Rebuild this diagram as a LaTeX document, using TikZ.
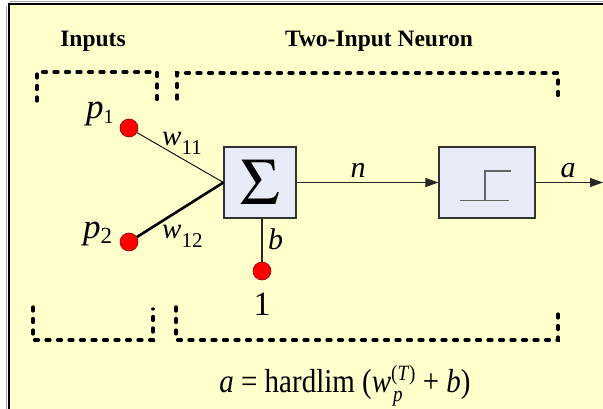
\documentclass[tikz,border=0pt]{standalone}
\usepackage{mathptmx}
\usepackage{fontspec}
\setmainfont{Liberation Serif}
\usetikzlibrary{arrows.meta}
\definecolor{bgyellow}{RGB}{255,255,204}
\definecolor{boxfill}{RGB}{230,235,247}
\definecolor{boxline}{RGB}{50,50,50}
\definecolor{stepc}{RGB}{100,100,100}
\definecolor{dotred}{RGB}{255,0,0}
\newcommand{\fs}[1]{\fontsize{#1}{#1}\selectfont}
\newcommand{\sublab}[5]{\fs{#3}\textit{#1}\raisebox{-#4pt}{\fs{#5}#2}}
\tikzset{
  brk/.style={line width=3.2pt, dash pattern=on 4pt off 7.5pt, line cap=round},
  blk/.style={draw=boxline, fill=boxfill, line width=1.2pt, inner sep=0pt, minimum height=71pt},
  dot/.style={circle, draw=red!55!black, fill=dotred, line width=0.6pt, minimum size=18pt, inner sep=0pt},
  lbl/.style={inner sep=0pt, anchor=base west},
  wire/.style={line width=1.1pt, draw=black!85},
  arr/.style={wire, -{Triangle[length=13pt,width=9pt]}},
  head/.style={font=\fs{23.5}\bfseries, inner sep=0pt}
}
\begin{document}
\begin{tikzpicture}[x=1pt,y=-1pt]
\useasboundingbox (0,0) rectangle (603,409);
\fill[bgyellow] (8,3) rectangle (603,409);
\draw[black!35, line width=1pt] (6.5,6) -- (6.5,409);
\draw[black!35, line width=1pt] (10,1.5) -- (603,1.5);
\draw[line width=1.6pt] (8.8,409) -- (8.8,3.8) -- (603,3.8);

\node[head] (hin) at (93,41) {Inputs};
\node[head] (hneu) at (379,41) {Two-Input Neuron};

\draw[brk] (37,101) -- (37,72) -- (157,72) -- (157,101);
\draw[brk] (177,99) -- (177,73) -- (558,73) -- (558,99);
\draw[brk] (33,307) -- (33,340) -- (153,340) -- (153,309);
\draw[brk] (176,307) -- (176,340) -- (558,340) -- (558,307);

\node[blk, minimum width=72pt] (sum) at (260,182.5) {\fs{66}$\Sigma$};
\node[blk, minimum width=96pt] (lim) at (487,182.5) {};
\draw[stepc, line width=1.6pt] (460,200.5) -- (509,200.5);
\draw[stepc, line width=1.6pt] (485,200.5) -- (485,171) -- (511,171);

\node[dot] (p1) at (129,128) {};
\node[dot] (p2) at (129,242) {};
\node[dot] (bias) at (262,271) {};
\coordinate (out) at (603,182.5);

\draw[line width=0.9pt] (p1) -- (sum.west);
\draw[line width=2.6pt] (p2) -- (sum.west);
\draw[wire] (sum.south -| bias) -- (bias);
\draw[arr] (sum.east) -- (lim.west);
\draw[arr] (lim.east) -- (out);

\node[lbl] (lp1) at (86,119) {\sublab{p}{1}{35}{5}{20}};
\node[lbl] (lp2) at (83,239) {\sublab{p}{2}{35}{5}{23}};
\node[lbl] (lw11) at (162,146) {\sublab{w}{11}{29}{9}{21}};
\node[lbl] (lw12) at (162,239) {\sublab{w}{12}{29}{9}{21}};
\node[lbl] (lb) at (268,249) {\fs{30}\textit{b}};
\node[lbl, anchor=base] (ln) at (358,178) {\fs{30}\textit{n}};
\node[lbl, anchor=base] (la) at (568,178) {\fs{30}\textit{a}};
\node[lbl, anchor=base] (lone) at (262,315) {\fs{34}1};
\node[lbl, anchor=base] (eq) at (345,392) {\scalebox{1}[1.15]{\fs{29}\textit{a} = hardlim (\textit{w}\rlap{\raisebox{-8pt}{\fs{19}\hspace{2pt}\textit{p}}}\raisebox{10pt}{\fs{19}(\textit{T})} + \textit{b})}};
\end{tikzpicture}
\end{document}
